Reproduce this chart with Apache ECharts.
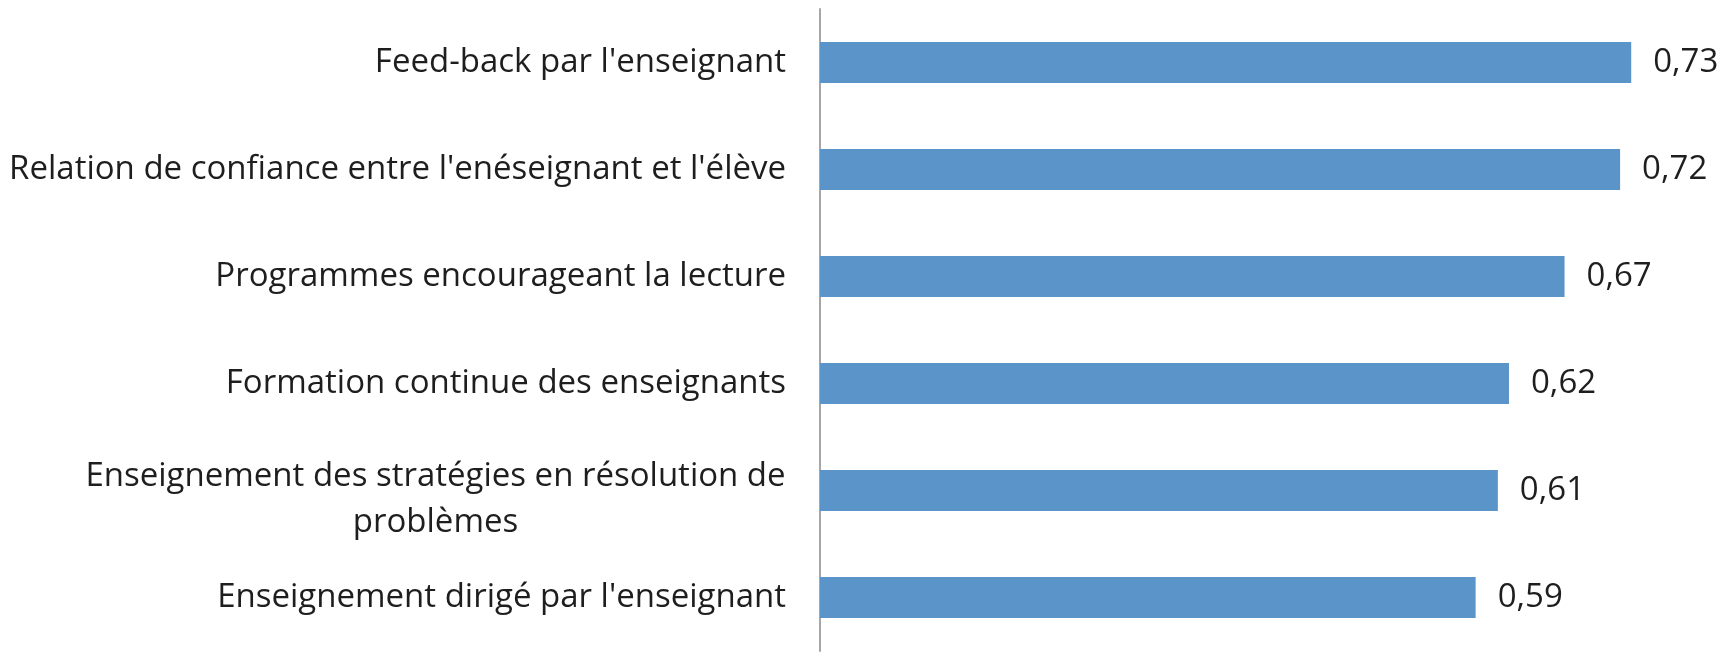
<!DOCTYPE html>
<html>
<head>
<meta charset="utf-8">
<script src="https://cdn.jsdelivr.net/npm/echarts@6/dist/echarts.min.js"></script>
<style>
html, body { margin: 0; padding: 0; background: #fff; }
#chart { width: 1736px; height: 659px; }
</style>
</head>
<body>
<div id="chart"></div>
<script>
var categories = [
	"Feed-back par l'enseignant",
	"Relation de confiance entre l'enéseignant et l'élève",
	"Programmes encourageant la lecture",
	"Formation continue des enseignants",
	"Enseignement des stratégies en résolution de\nproblèmes",
	"Enseignement dirigé par l'enseignant"
];
var values = [0.73, 0.72, 0.67, 0.62, 0.61, 0.59];

var fontFamily = 'Open Sans';
var fontSize = 33;

// largeur de la premiere ligne, pour centrer la seconde en dessous
var ctx = document.createElement('canvas').getContext('2d');
ctx.font = fontSize + 'px ' + fontFamily;
function lineWidth(s) { return Math.ceil(ctx.measureText(s).width); }

var chart = echarts.init(document.getElementById('chart'));

var yData = categories.map(function (c) {
	if (c.indexOf('\n') < 0) return c;
	return { value: c, textStyle: { padding: [18, 0, 0, 0] } };
});

var option = {
	backgroundColor: '#fff',
	animation: false,
	grid: { left: 820, right: 27, top: 9, bottom: 8 },
	xAxis: {
		type: 'value',
		min: 0,
		max: 0.8,
		show: false
	},
	yAxis: {
		type: 'category',
		data: yData,
		inverse: true,
		axisLine: { lineStyle: { color: '#a6a6a6', width: 2 } },
		axisTick: { show: false },
		axisLabel: {
			margin: 34,
			color: '#1e1e1e',
			fontFamily: fontFamily,
			fontSize: fontSize,
			lineHeight: 46,
			formatter: function (v) {
				var lines = v.split('\n');
				if (lines.length < 2) return v;
				return lines.map(function (l) { return '{c|' + l + '}'; }).join('\n');
			},
			rich: {
				c: {
					fontFamily: fontFamily,
					fontSize: fontSize,
					color: '#1e1e1e',
					lineHeight: 46,
					align: 'center',
					width: lineWidth("Enseignement des stratégies en résolution de")
				}
			}
		}
	},
	series: [{
		type: 'bar',
		data: values,
		barWidth: 41,
		itemStyle: { color: '#5b94c9' },
		label: {
			show: true,
			position: 'right',
			distance: 22,
			color: '#1e1e1e',
			fontFamily: fontFamily,
			fontSize: fontSize,
			formatter: function (p) { return p.value.toFixed(2).replace('.', ','); }
		}
	}]
};

chart.setOption(option);
</script>
</body>
</html>
